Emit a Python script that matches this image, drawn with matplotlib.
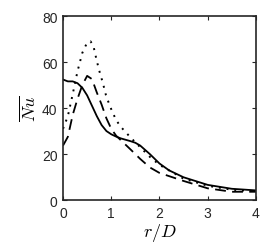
import matplotlib
matplotlib.use("Agg")
import matplotlib.pyplot as plt
import numpy as np

x_solid = [0.0, 0.1, 0.2, 0.3, 0.4, 0.5, 0.6, 0.7, 0.8, 0.9, 1.0, 1.1, 1.2, 1.4, 1.5, 1.6, 1.8, 2.0, 2.2, 2.5, 3.0, 3.5, 4.0]
y_solid = [52.4, 51.6, 51.6, 50.8, 48.8, 45.5, 41.0, 36.5, 32.6, 30.0, 28.6, 27.6, 26.8, 25.6, 24.9, 23.7, 20.0, 15.9, 12.9, 9.9, 6.6, 4.9, 4.2]

x_dot = [0.0, 0.1, 0.2, 0.3, 0.4, 0.5, 0.57, 0.63, 0.7, 0.77, 0.82, 0.89, 0.94, 1.0, 1.1, 1.2, 1.3, 1.4, 1.6, 1.8, 2.0, 2.5, 3.0, 3.5, 4.0]
y_dot = [31.0, 36.5, 46.0, 56.0, 64.0, 68.5, 69.0, 67.0, 60.5, 54.8, 51.4, 45.6, 42.7, 39.5, 34.8, 31.8, 29.5, 27.2, 23.0, 18.8, 15.3, 9.3, 6.2, 4.5, 3.8]

x_dash = [0.0, 0.1, 0.2, 0.3, 0.4, 0.5, 0.6, 0.7, 0.8, 0.9, 1.0, 1.1, 1.2, 1.4, 1.6, 1.8, 2.0, 2.5, 3.0, 3.5, 4.0]
y_dash = [23.7, 27.5, 37.0, 44.0, 50.0, 54.0, 52.6, 46.8, 41.5, 35.5, 31.0, 28.0, 26.0, 22.0, 17.9, 14.2, 11.8, 8.3, 5.1, 3.6, 3.6]

xticks = [0, 1, 2, 3, 4]
yticks = [0, 20, 40, 60, 80]

plt.rcParams['mathtext.fontset'] = 'cm'
plt.rcParams['font.family'] = ['Liberation Sans', 'DejaVu Sans']

fig = plt.figure(figsize=(2.66, 2.51), dpi=100)
ax = fig.add_axes([0.237, 0.199, 0.725, 0.733])

ax.plot(x_solid, y_solid, color='black', lw=1.3, ls='-')
ax.plot(x_dot, y_dot, color='black', lw=1.4, ls=(0, (1, 3)))
ax.plot(x_dash, y_dash, color='black', lw=1.3, ls=(0, (6, 3.5)))

ax.set_xlim(0, 4)
ax.set_ylim(0, 80)
ax.set_xticks(xticks)
ax.set_yticks(yticks)
ax.tick_params(direction='in', top=True, right=True, length=3, width=0.8, labelsize=10, colors='#262626', pad=4)
for s in ax.spines.values():
    s.set_linewidth(1.2)
    s.set_color('#262626')
ax.set_xlabel(r'$r/D$', fontsize=13, labelpad=1)
ax.set_ylabel(r'$\overline{Nu}$', fontsize=13, labelpad=2)

fig.savefig('out.png', dpi=100)
